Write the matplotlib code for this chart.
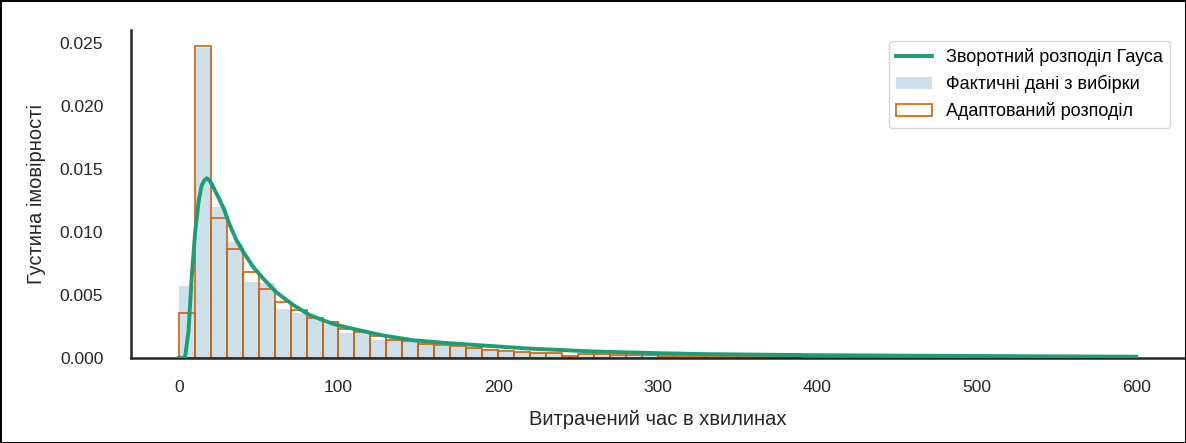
import numpy as np
import matplotlib.pyplot as plt

plt.rcParams['font.family'] = ['Liberation Sans', 'DejaVu Sans']

# histogram bins (minutes), width 10
bin_left = np.arange(0, 390, 10)
# actual sample data (density)
sample_dens = [0.00570, 0.02460, 0.01195, 0.00920, 0.00603, 0.00592, 0.00390, 0.00358,
               0.00318, 0.00264, 0.00198, 0.00198, 0.00142, 0.00140, 0.00130, 0.00110,
               0.00092, 0.00090, 0.00078, 0.00060, 0.00050, 0.00050, 0.00040, 0.00040,
               0.00020, 0.00030, 0.00030, 0.00025, 0.00020, 0.00020, 0.00016, 0.00014,
               0.00013, 0.00011, 0.00010, 0.00009, 0.00008, 0.00008, 0.00007]
# fitted distribution histogram (density)
fitted_dens = [0.00358, 0.02475, 0.01106, 0.00866, 0.00680, 0.00546, 0.00441, 0.00378,
               0.00314, 0.00285, 0.00227, 0.00205, 0.00172, 0.00146, 0.00134, 0.00114,
               0.00105, 0.00095, 0.00080, 0.00066, 0.00053, 0.00051, 0.00040, 0.00040,
               0.00018, 0.00032, 0.00030, 0.00025, 0.00022, 0.00020, 0.00017, 0.00015,
               0.00013, 0.00012, 0.00011, 0.00010, 0.00009, 0.00008, 0.00007]

# inverse gaussian pdf
curve_x = [0, 3, 3.9, 6, 8.1, 10.2, 12.3, 14.3, 16, 17.5, 19, 20.6, 23.7, 27.9, 32, 36.2,
           40.4, 46.6, 52.8, 61.1, 71.6, 81.9, 96.5, 106, 127, 147, 168, 189, 220, 258,
           300, 332, 400, 470, 540, 600]
curve_y = [0, 0, 0.0001, 0.0021, 0.0066, 0.0100, 0.0124, 0.0137, 0.0141, 0.01425, 0.0141,
           0.0138, 0.0130, 0.0119, 0.0105, 0.0093, 0.0084, 0.0072, 0.0063, 0.0052, 0.0042,
           0.0034, 0.0027, 0.0024, 0.0018, 0.0014, 0.00118, 0.0010, 0.00074, 0.00052,
           0.00038, 0.0003, 0.00022, 0.00017, 0.00013, 0.0001]

fig = plt.figure(figsize=(11.86, 4.43), dpi=100, edgecolor='black', linewidth=1)
ax = fig.add_axes([0.1105, 0.192, 0.888, 0.740])

ax.bar(bin_left, sample_dens, width=10, align='edge', color='#cce0ec', linewidth=0,
       label='Фактичні дані з вибірки', zorder=1)
ax.bar(bin_left, fitted_dens, width=10, align='edge', fill=False, edgecolor='#d95f02',
       linewidth=1.2, label='Адаптований розподіл', zorder=2)
ax.plot(curve_x, curve_y, color='#1b9e77', lw=2.8, label='Зворотний розподіл Гауса',
        zorder=3, solid_joinstyle='round')

ax.set_xlim(-30, 630)
ax.set_ylim(0, 0.026)
ax.set_yticks([0, 0.005, 0.01, 0.015, 0.02, 0.025])
ax.set_xticks([0, 100, 200, 300, 400, 500, 600])
ax.tick_params(length=0, labelsize=12.5, colors='#262626')
ax.tick_params(axis='y', pad=20)
ax.tick_params(axis='x', pad=16)

for s in ['top', 'right']:
    ax.spines[s].set_visible(False)
for s in ['left', 'bottom']:
    ax.spines[s].set_linewidth(1.8)
    ax.spines[s].set_color('#262626')

ax.set_xlabel('Витрачений час в хвилинах', fontsize=14.5, color='#262626', labelpad=11)
ax.set_ylabel('Густина імовірності', fontsize=14.5, color='#262626', labelpad=10)

ax.legend(loc='upper right', fontsize=13, frameon=True, edgecolor='#cccccc',
          bbox_to_anchor=(0.9955, 0.995))

fig.savefig('out.png', dpi=100)
